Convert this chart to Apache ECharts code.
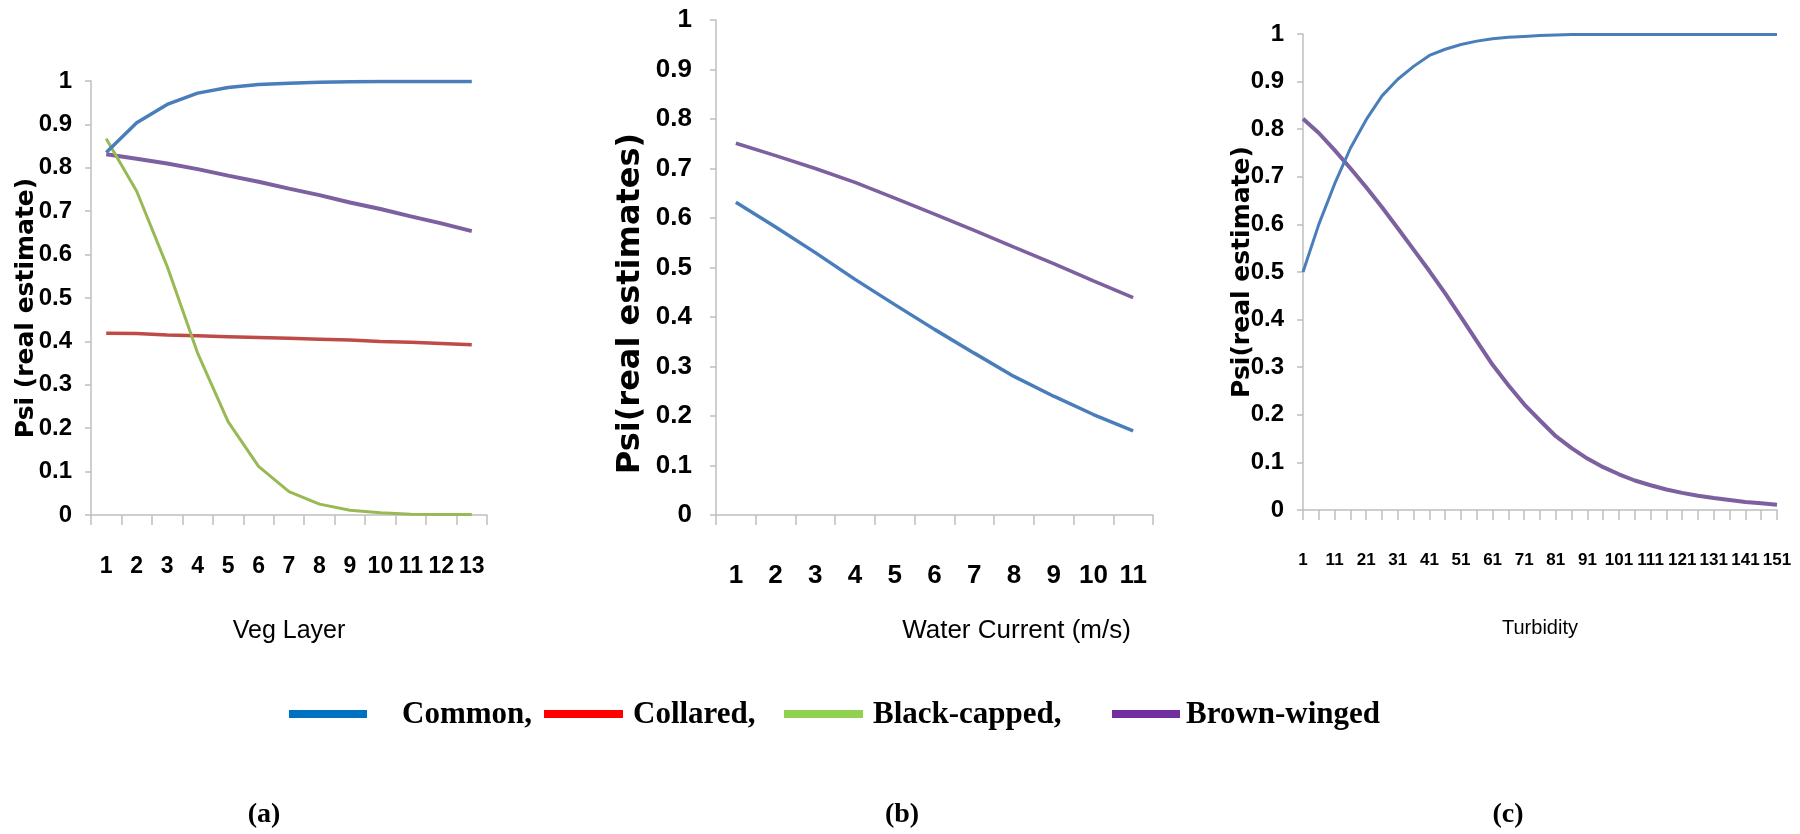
<!DOCTYPE html>
<html>
<head>
<meta charset="utf-8">
<script src="https://cdn.jsdelivr.net/npm/echarts@6/dist/echarts.min.js"></script>
<style>
  html, body { margin: 0; padding: 0; background: #fff; }
  #chart { width: 1800px; height: 834px; }
</style>
</head>
<body>
<div id="chart"></div>
<script>
// panel (a) - veg layer
const vegLayers = ['1','2','3','4','5','6','7','8','9','10','11','12','13'];
const vegCommon = [0.835, 0.904, 0.946, 0.972, 0.985, 0.992, 0.995, 0.997, 0.998, 0.999, 0.999, 0.999, 0.999];
const vegCollared = [0.419, 0.418, 0.415, 0.413, 0.411, 0.409, 0.407, 0.405, 0.403, 0.400, 0.398, 0.395, 0.392];
const vegBlackCapped = [0.867, 0.746, 0.573, 0.373, 0.215, 0.112, 0.054, 0.025, 0.011, 0.005, 0.002, 0.001, 0.001];
const vegBrownWinged = [0.831, 0.821, 0.810, 0.797, 0.782, 0.768, 0.752, 0.737, 0.720, 0.705, 0.688, 0.672, 0.654];

// panel (b) - water current
const currents = ['1','2','3','4','5','6','7','8','9','10','11'];
const currentCommon = [0.632, 0.582, 0.530, 0.476, 0.425, 0.375, 0.327, 0.280, 0.240, 0.203, 0.170];
const currentBrownWinged = [0.751, 0.726, 0.700, 0.672, 0.640, 0.608, 0.575, 0.541, 0.508, 0.473, 0.439];

// panel (c) - turbidity, read every 5 units
const turbidityCategories = Array.from({ length: 151 }, (_, i) => String(i + 1));
const turbidityPoints = [1, 6, 11, 16, 21, 26, 31, 36, 41, 46, 51, 56, 61, 66, 71, 76, 81, 86, 91, 96, 101, 106, 111, 116, 121, 126, 131, 136, 141, 146, 151];
const turbCommon = [0.50, 0.60, 0.685, 0.76, 0.82, 0.87, 0.905, 0.932, 0.955, 0.968, 0.978, 0.985, 0.990, 0.993, 0.995, 0.997, 0.998, 0.999, 0.999, 0.999, 0.999, 0.999, 0.999, 0.999, 0.999, 0.999, 0.999, 0.999, 0.999, 0.999, 0.999];
const turbBrownWinged = [0.822, 0.792, 0.756, 0.718, 0.678, 0.636, 0.592, 0.547, 0.502, 0.455, 0.405, 0.355, 0.305, 0.262, 0.222, 0.188, 0.155, 0.130, 0.108, 0.090, 0.075, 0.062, 0.052, 0.043, 0.036, 0.030, 0.025, 0.021, 0.017, 0.014, 0.011];

const legendNames = ['Common,', 'Collared,', 'Black-capped,', 'Brown-winged'];

const colBlue = '#4a7ebb', colRed = '#be4b48', colGreen = '#98b954', colPurple = '#7d60a0';
const labelFont = "'Liberation Sans Narrow', 'Liberation Sans', sans-serif";
const axisGray = '#bfbfbf';

const yAxisFor = (gridIndex, fontSize, margin, name, nameGap, nameSize, namePad) => ({
    type: 'value', gridIndex, min: 0, max: 1, interval: 0.1,
    splitLine: { show: false },
    axisLine: { show: true, lineStyle: { color: axisGray, width: 1.5 } },
    axisTick: { show: true, length: 6, lineStyle: { color: axisGray, width: 1.5 } },
    axisLabel: { color: '#000', fontFamily: labelFont, fontWeight: 'bold', fontSize, margin },
    name, nameLocation: 'middle', nameGap, nameMoveOverlap: false,
    nameTextStyle: { color: '#000', fontFamily: 'DejaVu Sans', fontWeight: 'bold', fontSize: nameSize, padding: namePad }
});

const xAxisFor = (gridIndex, data, fontSize, margin, name, nameGap, nameSize, namePad, extra) => Object.assign({
    type: 'category', gridIndex, data,
    axisLine: { show: true, lineStyle: { color: axisGray, width: 1.5 } },
    axisTick: { show: true, length: 10, lineStyle: { color: axisGray, width: 1.5 } },
    axisLabel: { color: '#000', fontFamily: labelFont, fontWeight: 'bold', fontSize, margin, interval: 0 },
    name, nameLocation: 'middle', nameGap, nameMoveOverlap: false,
    nameTextStyle: { color: '#000', fontFamily: labelFont, fontSize: nameSize, padding: namePad }
}, extra || {});

const line = (name, xi, data, color, width) => ({
    name, type: 'line', xAxisIndex: xi, yAxisIndex: xi, data,
    showSymbol: false, symbol: 'none', smooth: false,
    lineStyle: { color, width }, itemStyle: { color }, animation: false
});

// legend built by hand (its colours differ from the line colours)
const legendItems = [
    { x1: 289, x2: 367, tx: 402, color: '#0070c0' },
    { x1: 544, x2: 623, tx: 633, color: '#ff0000' },
    { x1: 784, x2: 863, tx: 873, color: '#92d050' },
    { x1: 1112, x2: 1180, tx: 1186, color: '#7030a0' }
];
const pageGraphics = [];
legendItems.forEach((it, i) => {
    pageGraphics.push({ type: 'rect', shape: { x: it.x1, y: 710, width: it.x2 - it.x1, height: 8 }, style: { fill: it.color } });
    pageGraphics.push({ type: 'text', x: it.tx, y: 715, style: { text: legendNames[i], fill: '#000', font: "bold 31px 'Liberation Serif'", textVerticalAlign: 'middle' } });
});
['(a)', '(b)', '(c)'].forEach((t, i) => {
    pageGraphics.push({ type: 'text', x: [264, 902, 1508][i], y: 815, style: { text: t, fill: '#000', font: "bold 28px 'Liberation Serif'", textAlign: 'center', textVerticalAlign: 'middle' } });
});

const chart = echarts.init(document.getElementById('chart'));
chart.setOption({
    backgroundColor: '#fff',
    animation: false,
    grid: [
        { left: 91, top: 81, width: 396, height: 434 },
        { left: 716, top: 20, width: 437, height: 495 },
        { left: 1303, top: 34, width: 474, height: 476 }
    ],
    xAxis: [
        xAxisFor(0, vegLayers, 23, 40, 'Veg Layer', 104, 25, [0, 0, 0, 0]),
        xAxisFor(1, currents, 26, 48, 'Water Current (m/s)', 103, 26, [0, 0, 0, 164]),
        xAxisFor(2, turbidityCategories, 17, 42, 'Turbidity', 108, 20, [0, 0, 0, 0], {
            boundaryGap: false,
            axisTick: { show: true, length: 10, interval: 4, lineStyle: { color: axisGray, width: 1.5 } },
            axisLabel: { color: '#000', fontFamily: labelFont, fontWeight: 'bold', fontSize: 17, margin: 42, interval: 9, showMaxLabel: true }
        })
    ],
    yAxis: [
        yAxisFor(0, 24, 19, 'Psi (real estimate)', 52, 25, [0, 20, 0, 0]),
        yAxisFor(1, 26, 24, 'Psi(real estimates)', 69, 32, [0, 72, 0, 0]),
        yAxisFor(2, 24, 19, 'Psi(real estimate)', 48, 25, [0, 0, 0, 0])
    ],
    series: [
        line('Collared', 0, vegCollared, colRed, 3.5),
        line('Brown-winged', 0, vegBrownWinged, colPurple, 4),
        line('Black-capped', 0, vegBlackCapped, colGreen, 3),
        line('Common', 0, vegCommon, colBlue, 3.5),
        line('Brown-winged', 1, currentBrownWinged, colPurple, 3.5),
        line('Common', 1, currentCommon, colBlue, 3.5),
        line('Brown-winged', 2, turbidityPoints.map((t, i) => [String(t), turbBrownWinged[i]]), colPurple, 4),
        line('Common', 2, turbidityPoints.map((t, i) => [String(t), turbCommon[i]]), colBlue, 3)
    ],
    graphic: pageGraphics
});
</script>
</body>
</html>
